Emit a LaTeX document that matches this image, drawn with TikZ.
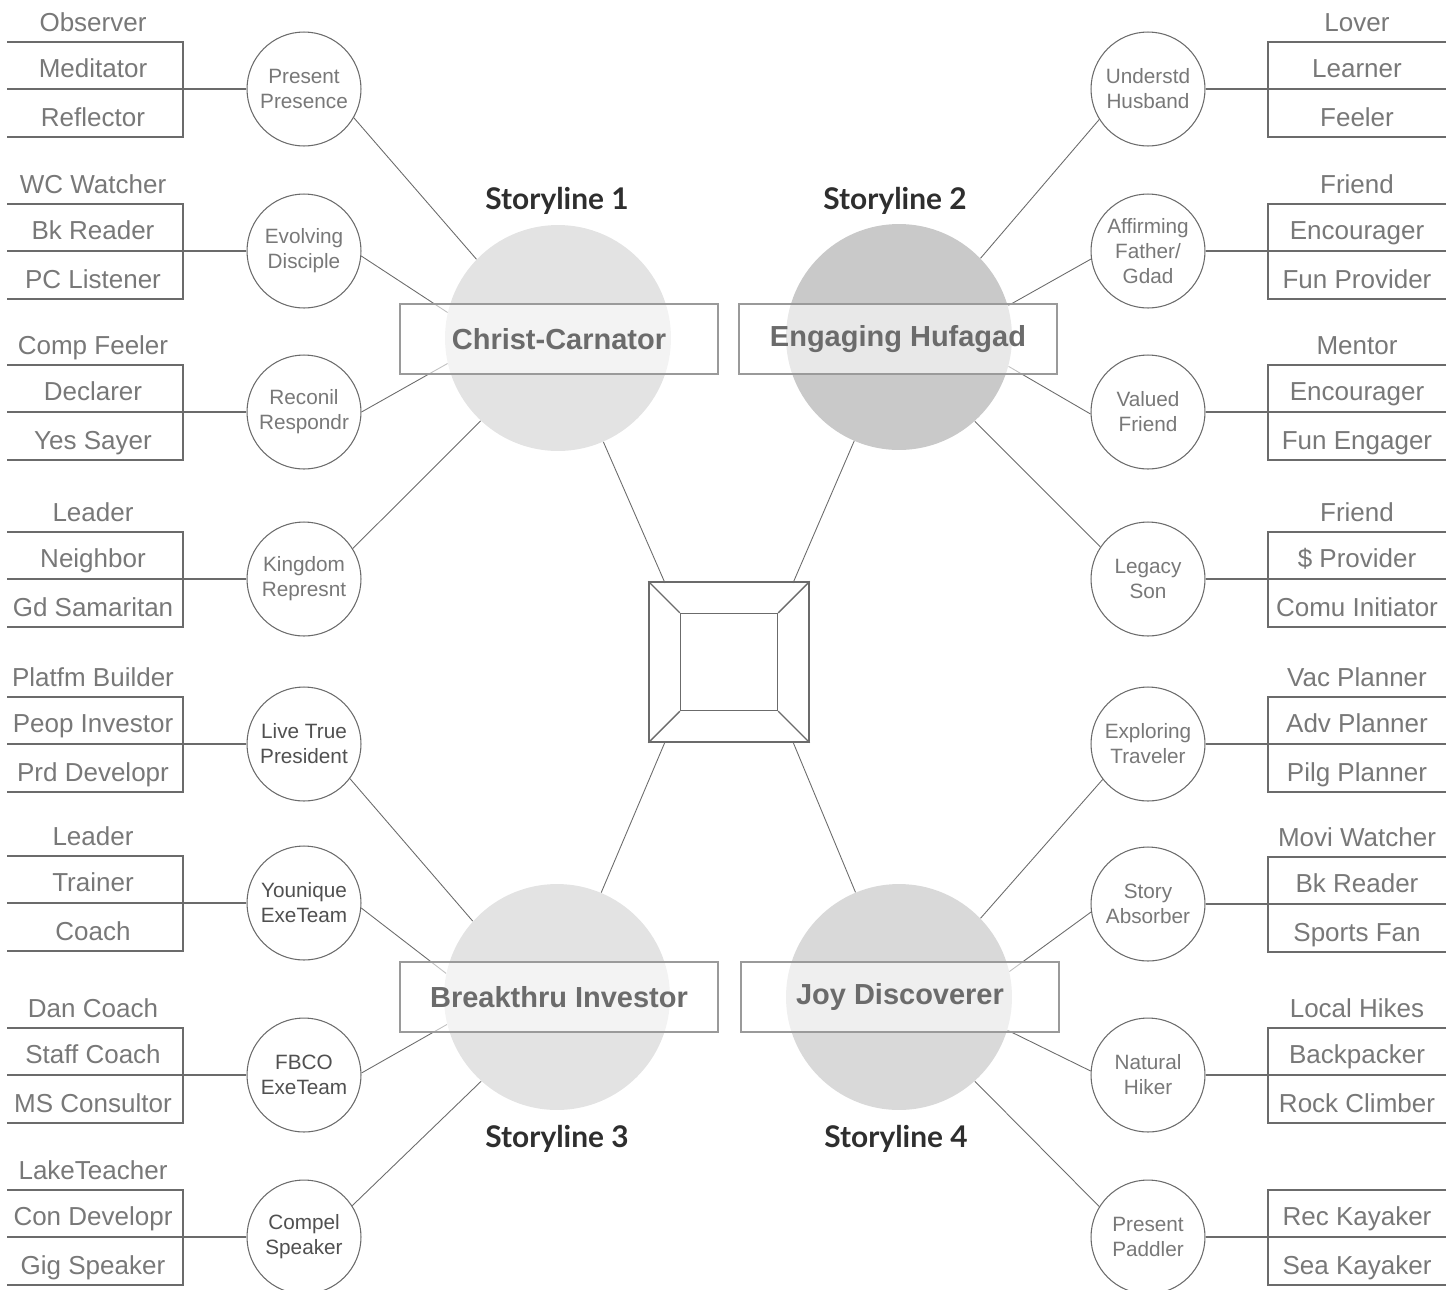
\documentclass[tikz,border=0pt]{standalone}
\usepackage{fontspec}
\setmainfont{Liberation Sans}
\newfontfamily\storyfont{Lato}
\usetikzlibrary{backgrounds}

\definecolor{inkgray}{HTML}{6B6B6B}
\definecolor{textgray}{HTML}{787878}
\definecolor{darktext}{HTML}{505050}
\definecolor{boxgray}{HTML}{9A9A9A}
\definecolor{headgray}{HTML}{2E2E2E}
\definecolor{storyA}{HTML}{E3E3E3}
\definecolor{storyB}{HTML}{C9C9C9}
\definecolor{storyD}{HTML}{D9D9D9}

\tikzset{
  sat/.style={circle, draw=inkgray, fill=white, line width=0.6pt, minimum size=2.28cm,
    inner sep=0pt, align=center, font=\fontsize{11.8}{14.2}\selectfont},
  role/.style={text=textgray, anchor=base, font=\fontsize{14.8}{17}\selectfont},
  story/.style={circle, minimum size=4.52cm, inner sep=0pt},
  banner/.style={draw=boxgray, line width=0.8pt, fill=white, fill opacity=0.58, text opacity=1,
    minimum width=6.36cm, minimum height=1.4cm, text=inkgray,
    font=\fontsize{16.5}{19}\selectfont\bfseries},
  heading/.style={text=headgray, font=\storyfont\fontsize{17}{20}\selectfont\bfseries},
  wire/.style={draw=inkgray, line width=0.5pt},
  boxline/.style={draw=inkgray, line width=0.6pt},
}

\begin{document}
\begin{tikzpicture}[x=0.02cm, y=-0.02cm]
\useasboundingbox (0,0) rectangle (1454,1289);

% Storyline circles
\node[story, fill=storyA] (s1) at (558,338) {};
\node[story, fill=storyB] (s2) at (899,337) {};
\node[story, fill=storyA] (s3) at (557,997) {};
\node[story, fill=storyD] (s4) at (899,997) {};

% Banners
\node[banner] (b1) at (559,339) {Christ-Carnator};
\node[banner] (b2) at (898,339) {Engaging Hufagad};
\node[banner] (b3) at (559,997) {Breakthru Investor};
\node[banner] (b4) at (900,997) {Joy Discoverer};

% Headings
\node[heading] (h1) at (557,201) {Storyline 1};
\node[heading] (h2) at (895,201) {Storyline 2};
\node[heading] (h3) at (557,1139) {Storyline 3};
\node[heading] (h4) at (896,1139) {Storyline 4};

% Center square
\node[draw=inkgray, line width=0.8pt, minimum size=3.2cm] (sq) at (729,662) {};
\node[draw=inkgray, line width=0.8pt, minimum size=1.94cm] (sqin) at (729,662) {};
\foreach \c in {north west, north east, south west, south east}
  \draw[inkgray, line width=0.8pt] (sq.\c) -- (sqin.\c);
\coordinate (q1) at (665,583);
\coordinate (q2) at (793,583);
\coordinate (q3) at (665,742);
\coordinate (q4) at (793,742);
\begin{scope}[on background layer]
\draw[wire] (q1) -- (s1);
\draw[wire] (q2) -- (s2);
\draw[wire] (q3) -- (s3);
\draw[wire] (q4) -- (s4);
\end{scope}

% Left groups
\foreach \n/\y/\ttl/\ra/\rb/\ctx/\tc/\a/\b/\s in {
  1/89/Observer/Meditator/Reflector/{Present\\Presence}/textgray/-30/136/s1,
  2/251/WC Watcher/Bk Reader/PC Listener/{Evolving\\Disciple}/textgray/-5/167/s1,
  3/412/Comp Feeler/Declarer/Yes Sayer/{Reconil\\Respondr}/textgray/0/193/s1,
  4/579/Leader/Neighbor/Gd Samaritan/{Kingdom\\Represnt}/textgray/32/227/s1,
  5/744/Platfm Builder/Peop Investor/Prd Developr/{Live True\\President}/darktext/-37/138/s3,
  6/903/Leader/Trainer/Coach/{Younique\\ExeTeam}/darktext/-5/168/s3,
  7/1075/Dan Coach/Staff Coach/MS Consultor/{FBCO\\ExeTeam}/darktext/2/194/s3,
  8/1237/LakeTeacher/Con Developr/Gig Speaker/{Compel\\Speaker}/darktext/33/228/s3}
{
  \node[sat, text=\tc] (L\n) at (304,\y) {\ctx};
  \node[role] (Lt\n) at (93,\y-58) {\ttl};
  \node[role] (La\n) at (93,\y-12) {\ra};
  \node[role] (Lb\n) at (93,\y+37) {\rb};
  \coordinate (Le\n) at (7,\y);
  \draw[boxline] (7,\y-47) -| (183,\y+48) -- (7,\y+48);
  \draw[boxline] (Le\n) -- (L\n);
  \begin{scope}[on background layer]
  \draw[wire] (L\n.\a) -- (\s.\b);
  \end{scope}
}

% Right groups
\foreach \n/\y/\ttl/\ra/\rb/\ctx/\a/\b/\s in {
  1/89/Lover/Learner/Feeler/{Understd\\Husband}/212/44/s2,
  2/251/Friend/Encourager/Fun Provider/{Affirming\\Father/\\Gdad}/188/16/s2,
  3/412/Mentor/Encourager/Fun Engager/{Valued\\Friend}/182/-15/s2,
  4/579/Friend/\$ Provider/Comu Initiator/{Legacy\\Son}/146/-48/s2,
  5/744/Vac Planner/Adv Planner/Pilg Planner/{Exploring\\Traveler}/218/44/s4,
  6/904/Movi Watcher/Bk Reader/Sports Fan/{Story\\Absorber}/188/13/s4,
  7/1075/Local Hikes/Backpacker/Rock Climber/{Natural\\Hiker}/176/-17/s4,
  8/1237//Rec Kayaker/Sea Kayaker/{Present\\Paddler}/148/-48/s4}
{
  \node[sat, text=textgray] (R\n) at (1148,\y) {\ctx};
  \node[role] (Rt\n) at (1357,\y-58) {\ttl};
  \node[role] (Ra\n) at (1357,\y-12) {\ra};
  \node[role] (Rb\n) at (1357,\y+37) {\rb};
  \coordinate (Re\n) at (1446,\y);
  \draw[boxline] (1446,\y-47) -| (1268,\y+48) -- (1446,\y+48);
  \draw[boxline] (R\n) -- (Re\n);
  \begin{scope}[on background layer]
  \draw[wire] (R\n.\a) -- (\s.\b);
  \end{scope}
}
\end{tikzpicture}
\end{document}
